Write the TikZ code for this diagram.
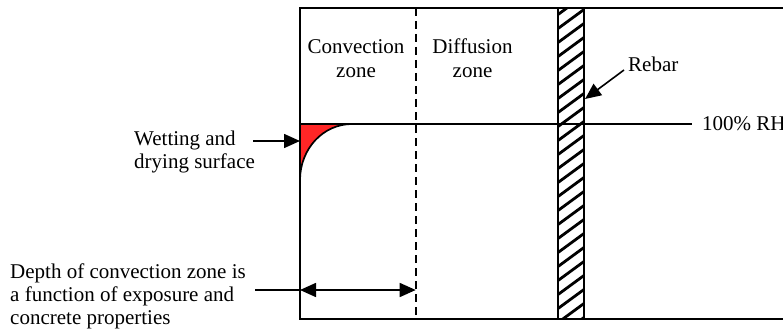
\documentclass[tikz,border=0pt]{standalone}
\usepackage{fontspec}
\setmainfont{Liberation Serif}
\usetikzlibrary{arrows.meta}
\begin{document}
\begin{tikzpicture}[x=1pt,y=-1pt,
  txt/.style={inner sep=0pt,font=\fontsize{21}{24}\selectfont},
  line/.style={line width=1.7pt},
  arr/.style={line width=1.6pt,-{Triangle[length=16pt,width=14pt]}},
  darr/.style={line width=1.6pt,{Triangle[length=16pt,width=14pt]}-{Triangle[length=16pt,width=14pt]}}]
\useasboundingbox (0,0) rectangle (783,334);
% red wet region
\fill[red!85!white] (300,124) -- (300,180) .. controls (300,149) and (323,124) .. (352,124) -- cycle;
\draw[line] (300,180) .. controls (300,149) and (323,124) .. (352,124);
% rebar hatching
\begin{scope}
\clip (558,8) rectangle (584,319);
\foreach \k in {-2,...,24} {
  \draw[line width=2.8pt] (556,8+14*\k+22) -- (586,8+14*\k);
}
\end{scope}
\draw[line] (558,8) rectangle (584,319);
% box
\draw[line] (783,8) -- (300,8) -- (300,319) -- (783,319);
\draw[line width=1.6pt,dash pattern=on 8pt off 5pt] (415.7,8) -- (415.7,319);
% 100% RH line
\coordinate (rhend) at (692,124);
\draw[line width=1.6pt] (300,124) -- (rhend);
\node[txt,anchor=base west] (rh) at (702,130) {100\% RH};
% zone labels
\node[txt,anchor=base] (conv1) at (356,54) {Convection};
\node[txt,anchor=base] (conv2) at (356,78) {zone};
\node[txt,anchor=base] (diff1) at (472.5,54) {Diffusion};
\node[txt,anchor=base] (diff2) at (472.5,78) {zone};
% rebar label
\node[txt,anchor=base west] (rebar) at (628,72) {Rebar};
\coordinate (rebarfrom) at (624,70);
\coordinate (rebartip) at (585,99);
\draw[arr] (rebarfrom) -- (rebartip);
% wetting label
\node[txt,anchor=base west] (wet1) at (134,145) {Wetting and};
\node[txt,anchor=base west] (wet2) at (134,168) {drying surface};
\coordinate (wetfrom) at (253,141);
\coordinate (wettip) at (300,141);
\draw[arr] (wetfrom) -- (wettip);
% depth label
\node[txt,anchor=base west] (dep1) at (10,278) {Depth of convection zone is};
\node[txt,anchor=base west] (dep2) at (10,301) {a function of exposure and};
\node[txt,anchor=base west] (dep3) at (10,324) {concrete properties};
\coordinate (depfrom) at (255,290);
\coordinate (depleft) at (300,290);
\coordinate (depright) at (415.7,290);
\draw[line width=1.6pt] (depfrom) -- (depleft);
\draw[darr] (depleft) -- (depright);
\end{tikzpicture}
\end{document}
